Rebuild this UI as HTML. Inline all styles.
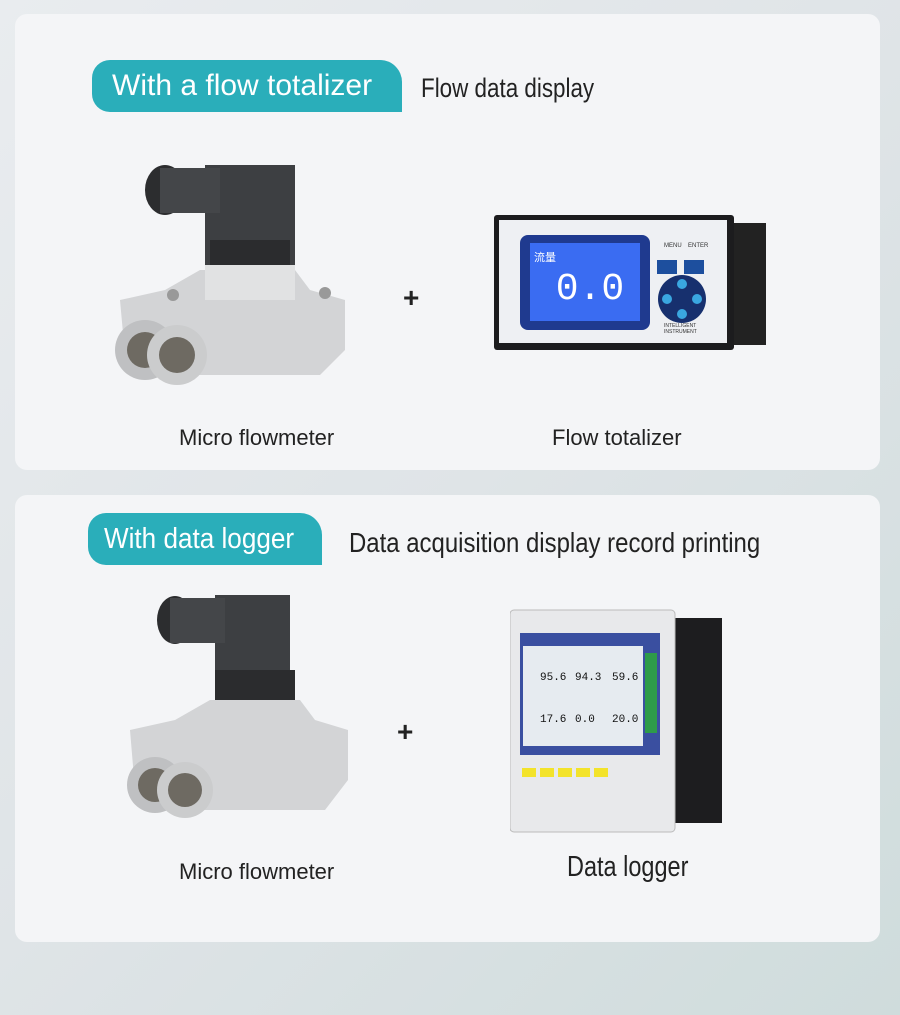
<!DOCTYPE html>
<html><head><meta charset="utf-8"><style>
body{margin:0;width:900px;height:1015px;background:linear-gradient(135deg,#e9ecef 0%,#dfe4e7 50%,#cfdcdc 100%);position:relative;overflow:hidden;font-family:"Liberation Sans",sans-serif}
.card{position:absolute;left:15px;width:865px;background:#f4f5f7;border-radius:12px}
.badge{position:absolute;background:#2aaeba;color:#fff;border-radius:18px 22px 0 18px;font-size:30px;line-height:52px;height:52px;box-sizing:border-box}
.t{position:absolute;color:#222;white-space:nowrap}
.n{transform-origin:0 50%}
svg{position:absolute}
</style></head><body>
<div class="card" style="top:14px;height:456px"></div>
<div class="card" style="top:495px;height:447px"></div>

<div class="badge" style="left:92px;top:60px;width:310px;padding-left:20px">With a flow totalizer</div>
<div class="t n" style="left:421px;top:73px;font-size:27px;transform:scaleX(0.83)">Flow data display</div>
<div class="badge" style="left:88px;top:513px;width:234px;padding-left:16px;font-size:29px"><span style="display:inline-block;transform:scaleX(0.9);transform-origin:0 50%">With data logger</span></div>
<div class="t n" style="left:349px;top:527px;font-size:28px;transform:scaleX(0.855)">Data acquisition display record printing</div>

<!-- flowmeter 1 -->
<svg style="left:105px;top:160px" width="250" height="230" viewBox="0 0 250 230">
<rect x="100" y="5" width="90" height="100" fill="#3d3f42"/>
<rect x="105" y="80" width="80" height="30" fill="#2b2c2e"/>
<ellipse cx="60" cy="30" rx="20" ry="25" fill="#2c2d2f"/>
<rect x="55" y="8" width="60" height="45" fill="#444649"/>
<path d="M95 110 L190 110 L205 130 L240 140 L240 190 L215 215 L60 215 L20 195 L15 140 L60 130 Z" fill="#d3d4d6"/>
<rect x="100" y="105" width="90" height="35" fill="#e1e2e3"/>
<circle cx="40" cy="190" r="30" fill="#bfc0c2"/><circle cx="40" cy="190" r="18" fill="#6e6a62"/>
<circle cx="72" cy="195" r="30" fill="#cbcccd"/><circle cx="72" cy="195" r="18" fill="#6e6a62"/>
<circle cx="68" cy="135" r="6" fill="#999"/><circle cx="220" cy="133" r="6" fill="#999"/>
</svg>
<div class="t" style="left:179px;top:425px;font-size:22px">Micro flowmeter</div>
<div class="t" style="left:403px;top:282px;font-size:28px;font-weight:bold">+</div>

<!-- totalizer -->
<svg style="left:494px;top:215px" width="272" height="138" viewBox="0 0 272 138">
<rect x="235" y="8" width="37" height="122" fill="#222"/>
<rect x="0" y="0" width="240" height="135" rx="3" fill="#1c1c1e"/>
<rect x="5" y="5" width="228" height="123" fill="#eef0f3"/>
<rect x="26" y="20" width="130" height="95" rx="8" fill="#1f3a8f"/>
<rect x="36" y="28" width="110" height="78" fill="#3a6cf2"/>
<text x="96" y="84" font-size="38" fill="#fff" font-family="Liberation Mono" text-anchor="middle">0.0</text>
<text x="40" y="46" font-size="11" fill="#fff" font-family="Noto Sans CJK SC,sans-serif">流量</text>
<rect x="163" y="45" width="20" height="14" fill="#1d4f9e"/><rect x="190" y="45" width="20" height="14" fill="#1d4f9e"/>
<circle cx="188" cy="84" r="24" fill="#17306e"/>
<circle cx="188" cy="69" r="5" fill="#3aa7e0"/><circle cx="188" cy="99" r="5" fill="#3aa7e0"/><circle cx="173" cy="84" r="5" fill="#3aa7e0"/><circle cx="203" cy="84" r="5" fill="#3aa7e0"/>
<text x="170" y="32" font-size="6" fill="#333">MENU</text><text x="194" y="32" font-size="6" fill="#333">ENTER</text>
<text x="170" y="112" font-size="5" fill="#333">INTELLIGENT</text><text x="170" y="118" font-size="5" fill="#333">INSTRUMENT</text>
</svg>
<div class="t" style="left:552px;top:425px;font-size:22px">Flow totalizer</div>

<!-- flowmeter 2 -->
<svg style="left:120px;top:590px" width="240" height="240" viewBox="0 0 240 240">
<rect x="95" y="5" width="75" height="110" fill="#3d3f42"/>
<rect x="95" y="80" width="80" height="30" fill="#2b2c2e"/>
<ellipse cx="55" cy="30" rx="18" ry="24" fill="#2c2d2f"/>
<rect x="50" y="8" width="55" height="45" fill="#444649"/>
<path d="M90 110 L180 110 L195 130 L228 140 L228 190 L205 220 L60 220 L15 200 L10 140 L55 130 Z" fill="#d3d4d6"/>
<circle cx="35" cy="195" r="28" fill="#bfc0c2"/><circle cx="35" cy="195" r="17" fill="#6e6a62"/>
<circle cx="65" cy="200" r="28" fill="#cbcccd"/><circle cx="65" cy="200" r="17" fill="#6e6a62"/>
</svg>
<div class="t" style="left:179px;top:859px;font-size:22px">Micro flowmeter</div>
<div class="t" style="left:397px;top:716px;font-size:28px;font-weight:bold">+</div>

<!-- data logger -->
<svg style="left:510px;top:608px" width="212" height="226" viewBox="0 0 212 226">
<rect x="155" y="10" width="57" height="205" fill="#1d1d1f"/>
<rect x="0" y="2" width="165" height="222" rx="4" fill="#e8e9eb" stroke="#bbb"/>
<rect x="10" y="25" width="140" height="122" fill="#3a4fa0"/>
<rect x="13" y="38" width="120" height="100" fill="#e6ebf0"/>
<g font-family="Liberation Mono" font-size="11" fill="#111">
<text x="30" y="72">95.6</text><text x="65" y="72">94.3</text><text x="102" y="72">59.6</text>
<text x="30" y="114">17.6</text><text x="65" y="114">0.0</text><text x="102" y="114">20.0</text></g>
<rect x="135" y="45" width="12" height="80" fill="#2e9b4a"/>
<g fill="#f3e32a"><rect x="12" y="160" width="14" height="9"/><rect x="30" y="160" width="14" height="9"/><rect x="48" y="160" width="14" height="9"/><rect x="66" y="160" width="14" height="9"/><rect x="84" y="160" width="14" height="9"/></g>
</svg>
<div class="t n" style="left:567px;top:851px;font-size:29px;transform:scaleX(0.81)">Data logger</div>
</body></html>
